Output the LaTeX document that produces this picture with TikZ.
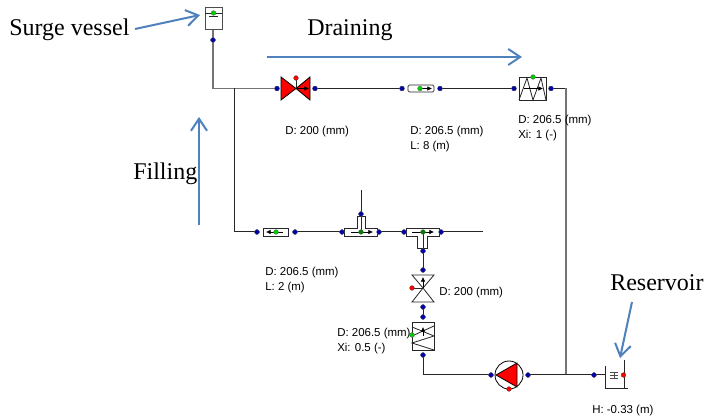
\documentclass[tikz,border=0pt]{standalone}
\usepackage{fontspec}
\setmainfont{Liberation Serif}
\newfontfamily\lab{Liberation Sans}
\usetikzlibrary{arrows.meta}
\definecolor{portb}{RGB}{0,0,170}
\definecolor{anno}{RGB}{79,129,189}
\tikzset{
  x=0.75pt,y=-0.75pt,
  pipe/.style={line width=0.75pt,draw=black!85},
  graypipe/.style={line width=1pt,draw=black!55},
  sym/.style={line width=0.6pt,draw=black!85},
  port/.style={circle,fill=portb,draw=black!60,line width=0.2pt,inner sep=0pt,minimum size=3.6pt},
  redp/.style={circle,fill=red,draw=black!70,line width=0.2pt,inner sep=0pt,minimum size=3.6pt},
  grnp/.style={circle,fill=green!80!black,draw=black!60,line width=0.2pt,inner sep=0pt,minimum size=3.6pt},
  big/.style={font=\fontsize{18}{20}\selectfont,inner sep=0pt},
  small/.style={font=\lab\fontsize{8.6}{11.2}\selectfont,inner sep=0pt,align=left,anchor=north west},
  annoarrow/.style={draw=anno,line width=1.5pt,-{Straight Barb[length=9pt,width=12pt]}},
  flowtip/.style={line width=0.5pt,draw=black,-{Latex[length=3.5pt,width=3.5pt]}},
}
\begin{document}
\begin{tikzpicture}
\useasboundingbox (0,0) rectangle (704,420);
\fill[white] (0,0) rectangle (704,420);
% ports and coordinates
\coordinate (sb) at (213,29);
\node[port] (sv) at (213,40) {};
\coordinate (c1) at (213,88.5);
\coordinate (j1) at (234,88.5);
\coordinate (c2) at (234,232);
\node[port] (v1l) at (277,88.5) {};
\node[port] (v1r) at (315,88.5) {};
\node[port] (p1l) at (402,88.5) {};
\node[port] (p1r) at (440,88.5) {};
\node[port] (h1l) at (514,88.5) {};
\node[port] (h1r) at (551,88.5) {};
\coordinate (c3) at (566,88.5);
\coordinate (j2) at (566,375);
\node[port] (p2l) at (257,232) {};
\node[port] (p2r) at (295,232) {};
\node[port] (t1l) at (342,232) {};
\node[port] (t1r) at (379,232) {};
\node[port] (t1t) at (361,214) {};
\coordinate (t1e) at (361,190);
\node[port] (t2l) at (404,232) {};
\node[port] (t2r) at (441,232) {};
\node[port] (t2b) at (423,251) {};
\coordinate (t2e) at (483,232);
\node[port] (v2t) at (423,270) {};
\node[port] (v2b) at (423,307) {};
\node[port] (h2t) at (423,317) {};
\node[port] (h2b) at (423,355) {};
\coordinate (c4) at (423,375);
\node[port] (pl) at (491,375) {};
\node[port] (pr) at (528,375) {};
\node[port] (rl) at (594,375) {};
\coordinate (rr) at (623,375);
% connectors
\draw[graypipe,line width=0.8pt] (sb) -- (sv.center) -- (c1) -- (v1l.center);
\draw[pipe] (j1) -- (c2) -- (p2l.center);
\draw[pipe] (v1r.center) -- (p1l.center);
\draw[pipe] (p1r.center) -- (h1l.center);
\draw[pipe] (h1r.center) -- (c3);
\draw[graypipe] (c3) -- (j2);
\draw[pipe] (p2r.center) -- (t1l.center);
\draw[pipe] (t1r.center) -- (t2l.center);
\draw[pipe] (t2r.center) -- (t2e);
\draw[pipe,line width=0.5pt] (t1t.center) -- (t1e);
\draw[pipe] (t2b.center) -- (v2t.center);
\draw[pipe] (v2b.center) -- (h2t.center);
\draw[pipe] (h2b.center) -- (c4) -- (pl.center);
\draw[pipe] (pr.center) -- (rr);
% surge vessel
\draw[sym,draw=black!70,fill=white] (205,7) rectangle (222,29);
\draw[sym] (205,13) -- (222,13);
\draw[sym] (209,16) -- (218,16);
\node[grnp] (svg) at (213.5,13) {};
% valve 1
\draw[line width=0.6pt,fill=red] (281,77) -- (296,88.5) -- (281,100) -- cycle;
\draw[line width=0.6pt,fill=red] (310,77) -- (296,88.5) -- (310,100) -- cycle;
\draw[sym] (296,80) -- (296,88.5);
\draw[flowtip] (296,88.5) -- (309,88.5);
\node[redp] (v1c) at (296,78) {};
% pipe 1
\draw[sym,fill=white,rounded corners=1pt] (408,85) rectangle (434,92);
\draw[flowtip] (418,88.5) -- (432,88.5);
\node[grnp] (p1g) at (420,88.5) {};
% friction element 1
\draw[sym,fill=white] (519,77) rectangle (546,100);
\draw[sym] (519,100) -- (527,78) -- (533,100) -- (541,78) -- (546,100);
\draw[flowtip] (524,88.5) -- (543,88.5);
\node[grnp] (h1g) at (533,77) {};
% pipe 2
\draw[sym,fill=white] (263,228) rectangle (288,236);
\draw[flowtip] (283,232) -- (266,232);
\node[grnp] (p2g) at (276,232) {};
% tee 1
\draw[sym,fill=white] (344,228) -- (357,228) -- (357,216) -- (365,216) -- (365,228) -- (377,228) -- (377,236) -- (344,236) -- cycle;
\draw[sym] (361,216) -- (361,232);
\draw[flowtip] (351,232) -- (373,232);
\node[grnp,fill=green!50!black] (t1g) at (361,232) {};
% tee 2
\draw[sym,fill=white] (406,228) -- (439,228) -- (439,236) -- (427,236) -- (427,248) -- (417,248) -- (417,236) -- (406,236) -- cycle;
\draw[sym] (423,232) -- (423,248);
\draw[flowtip] (412,232) -- (434,232);
\node[grnp,fill=green!50!black] (t2g) at (423,232) {};
% valve 2
\draw[sym,fill=white] (412,275) -- (434,275) -- (423,288) -- (434,302) -- (412,302) -- (423,288) -- cycle;
\draw[flowtip] (423,288) -- (423,277);
\draw[sym] (412,288) -- (423,288);
\node[redp] (v2r) at (412,288) {};
% friction element 2
\draw[sym,fill=white] (412,322) rectangle (434,350);
\draw[sym] (412,327) -- (434,336) -- (412,343) -- (434,350);
\draw[sym] (412,336) -- (434,326);
\draw[flowtip] (423,336) -- (423,327);
\node[grnp] (h2g) at (412,335) {};
% pump
\draw[line width=0.6pt,fill=white] (509,375) circle (14);
\draw[line width=0.6pt,fill=red] (496,375) -- (517,363) -- (517,387) -- cycle;
\node[redp] (pg) at (509,389) {};
% reservoir
\fill[white] (606,367) rectangle (622,387);
\draw[sym] (605,366) -- (605,388) -- (628,388);
\draw[sym] (624,360) -- (624,388);
\draw[line width=0.6pt,draw=black!70] (610,372) -- (618,372) (610,378) -- (618,378) (614,372) -- (614,378);
\draw[line width=0.6pt,draw=black!70] (610,375) -- (618,375);
\node[redp] (rp) at (623.5,375) {};
% re-place ports on top
\foreach \p in {sv,v1l,v1r,p1l,p1r,h1l,h1r,p2l,p2r,t1l,t1r,t1t,t2l,t2r,t2b,v2t,v2b,h2t,h2b,pl,pr,rl}
  \node[port] at (\p) {};
% labels
\node[small] (l1) at (285,126) {D: 200 (mm)};
\node[small] (l2) at (410,126) {D: 206.5 (mm)\\L: 8 (m)};
\node[small] (l3) at (518,115) {D: 206.5 (mm)\\Xi: 1 (-)};
\node[small] (l4) at (265,267) {D: 206.5 (mm)\\L: 2 (m)};
\node[small] (l5) at (439,286.5) {D: 200 (mm)};
\node[small] (l6) at (337,327.5) {D: 206.5 (mm)\\Xi: 0.5 (-)};
\node[small] (l7) at (592,405) {H: -0.33 (m)};
\node[big,anchor=west] (surge) at (9,30) {Surge vessel};
\node[big,anchor=west] (drain) at (307,30) {Draining};
\node[big,anchor=west] (fill) at (133,174) {Filling};
\node[big,anchor=west] (res) at (610,283) {Reservoir};
% annotation arrows
\coordinate (a1s) at (135,29); \coordinate (a1e) at (200,15);
\coordinate (a2s) at (267,57); \coordinate (a2e) at (522,57);
\coordinate (a3s) at (199,225); \coordinate (a3e) at (199,117);
\coordinate (a4s) at (632,302); \coordinate (a4e) at (620,358);
\draw[annoarrow] (a1s) -- (a1e);
\draw[annoarrow] (a2s) -- (a2e);
\draw[annoarrow] (a3s) -- (a3e);
\draw[annoarrow] (a4s) -- (a4e);
\end{tikzpicture}
\end{document}
